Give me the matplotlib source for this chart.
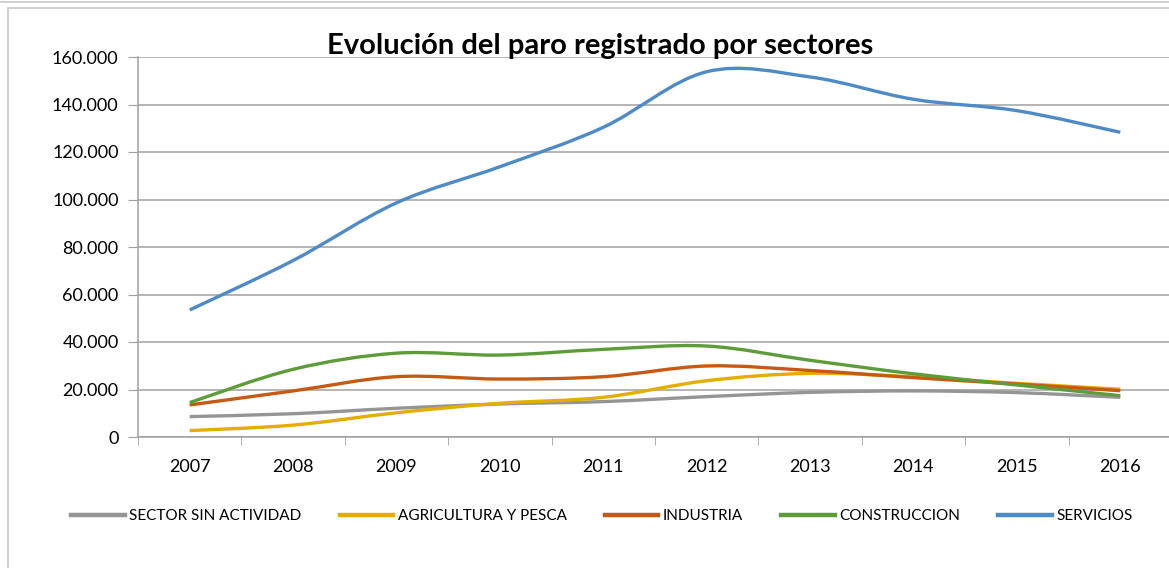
import numpy as np
import matplotlib
matplotlib.use("Agg")
import matplotlib.pyplot as plt
from matplotlib.path import Path
from matplotlib.patches import PathPatch, Rectangle
from matplotlib.lines import Line2D

# paro registrado por sectores, 2007-2016
years = ['2007', '2008', '2009', '2010', '2011', '2012', '2013', '2014', '2015', '2016']
sin_actividad = [8600, 9800, 12100, 13900, 14900, 17000, 18800, 19400, 18700, 16700]
agricultura = [2700, 5000, 10200, 14200, 16700, 23700, 26800, 25300, 22600, 20100]
industria = [13500, 19400, 25400, 24400, 25400, 29900, 28000, 25000, 22300, 19500]
construccion = [14500, 28500, 35300, 34500, 36900, 38300, 32300, 26600, 21900, 17400]
servicios = [53500, 74300, 98600, 113800, 130400, 153800, 151600, 142200, 137400, 128300]

names = ['SECTOR SIN ACTIVIDAD', 'AGRICULTURA Y PESCA', 'INDUSTRIA', 'CONSTRUCCION', 'SERVICIOS']
colors = ['#959595', '#E5AD00', '#C65A12', '#5E9C3A', '#4E8AC6']
series = [sin_actividad, agricultura, industria, construccion, servicios]

W, H = 1169, 568
fig = plt.figure(figsize=(W / 100, H / 100), dpi=100)

# frame lines like the excel chart area
fig.add_artist(Line2D([0, 1], [1 - 1.5 / H, 1 - 1.5 / H], color='#c8c8c8', lw=1.2))
fig.add_artist(Rectangle((7.5 / W, -0.1), 1.2, 1.1 - 8 / H, fill=False,
                         edgecolor='#c8c8c8', lw=1.2))

ax = fig.add_axes([138 / W, (H - 437) / H, 1034 / W, 380 / H])


def smooth_path(xs, ys):
    # excel style smoothed line: bezier with catmull-rom control points
    pts = np.column_stack([xs, ys]).astype(float)
    verts = [pts[0]]
    codes = [Path.MOVETO]
    n = len(pts)
    for i in range(n - 1):
        p0 = pts[max(i - 1, 0)]
        p1 = pts[i]
        p2 = pts[i + 1]
        p3 = pts[min(i + 2, n - 1)]
        c1 = p1 + (p2 - p0) / 6.0
        c2 = p2 - (p3 - p1) / 6.0
        verts += [c1, c2, p2]
        codes += [Path.CURVE4] * 3
    return Path(verts, codes)


x = np.arange(len(years))
for name, vals, col in zip(names, series, colors):
    patch = PathPatch(smooth_path(x, vals), facecolor='none', edgecolor=col,
                      lw=2.4, capstyle='butt', joinstyle='round')
    ax.add_patch(patch)

ax.set_xlim(-0.5, len(years) - 0.5)
ax.set_ylim(0, 160000)
ax.set_yticks(np.arange(0, 160001, 20000))
ax.set_yticklabels([f'{v:,.0f}'.replace(',', '.') for v in np.arange(0, 160001, 20000)])
ax.set_xticks(x)
ax.set_xticklabels(years)
ax.set_xticks(np.arange(-0.5, len(years), 1.0), minor=True)
ax.grid(axis='y', color='#a0a0a0', lw=1.1)
ax.set_axisbelow(True)

for s in ['top', 'right']:
    ax.spines[s].set_visible(False)
for s in ['left', 'bottom']:
    ax.spines[s].set_color('#a0a0a0')
    ax.spines[s].set_linewidth(1.1)

tick_font = ['Lato', 'DejaVu Sans']
ax.tick_params(axis='y', length=7, color='#a0a0a0', pad=7, labelsize=13)
ax.tick_params(axis='x', which='major', length=0, pad=16, labelsize=13)
ax.tick_params(axis='x', which='minor', length=6, color='#a0a0a0')
for lab in ax.get_xticklabels() + ax.get_yticklabels():
    lab.set_family(tick_font)

fig.text(600 / W, 1 - 46 / H, 'Evolución del paro registrado por sectores',
         ha='center', va='center', fontsize=21, fontweight='bold',
         family=['Lato', 'DejaVu Sans'])

handles = [Line2D([], [], color=c, lw=3.2) for c in colors]
leg = fig.legend(handles, names, loc='center', bbox_to_anchor=(602 / W, 1 - 516 / H),
                 ncol=5, frameon=False, handlelength=3.5, handletextpad=0.3,
                 columnspacing=2.5, prop={'family': ['Lato', 'DejaVu Sans'], 'size': 11})

fig.savefig('out.png', dpi=100)
